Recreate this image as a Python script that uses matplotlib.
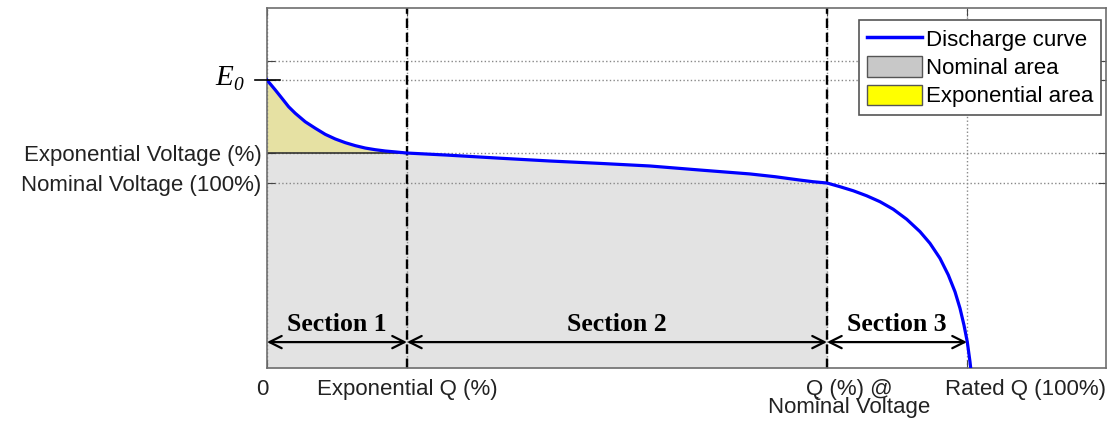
import numpy as np
import matplotlib.pyplot as plt
from matplotlib.patches import Patch
from matplotlib.lines import Line2D
import matplotlib.transforms as mtransforms

# Кривая разряда (заряд в % от номинального, напряжение в о.е.)
q = [0, 1.19, 2.14, 3.10, 4.04, 5.47, 6.90, 8.33, 9.76, 11.19, 12.61,
     14.04, 15.47, 16.90, 18.33, 20.0,
     25.7, 33.3, 40.4, 47.6, 54.7, 61.9, 69.0, 72.6, 76.1, 78.0, 80.0,
     81.86, 83.76, 85.67, 87.57, 89.47, 91.39, 93.29, 94.71, 96.14,
     97.33, 98.29, 99.0, 99.57, 100.04, 100.43, 100.53]
v = [1.557, 1.503, 1.458, 1.412, 1.377, 1.331, 1.296, 1.263, 1.238, 1.218, 1.202,
     1.189, 1.180, 1.173, 1.168, 1.162,
     1.151, 1.134, 1.119, 1.106, 1.092, 1.070, 1.049, 1.034, 1.016, 1.007, 1.000,
     0.980, 0.958, 0.931, 0.899, 0.858, 0.804, 0.737, 0.674, 0.593,
     0.503, 0.412, 0.323, 0.232, 0.142, 0.034, 0.0]

# Характерные точки
E0 = 1.557
v_exp = 1.162
v_nom = 1.0
v_grid_top = 1.659
q_exp = 20
q_nom = 80
q_rated = 100

section_labels = ['Section 1', 'Section 2', 'Section 3']
section_bounds = [0, q_exp, q_nom, q_rated]

x_labels = ['0', 'Exponential Q (%)', 'Q (%) @\nNominal Voltage', 'Rated Q (100%)']

q = np.array(q)
v = np.array(v)

fig = plt.figure(figsize=(11.11, 4.24), dpi=100)
ax = fig.add_axes([0.2403, 0.1321, 0.9955 - 0.2403, 0.9811 - 0.1321])

# Области
m_exp = q <= q_exp
m_nom = q <= q_nom
ax.fill_between(q[m_nom], 0, np.minimum(v[m_nom], v_exp), color='#e3e3e3', lw=0, zorder=1)
ax.fill_between(q[m_exp], v_exp, v[m_exp], color='#e6e1a3', lw=0, zorder=1)
ax.plot([0, q_exp], [v_exp, v_exp], color='#333333', lw=1.2, zorder=1.8)

# Кривая
ax.plot(q, v, color='#0000ff', lw=2.3, zorder=3, solid_joinstyle='round')

# Границы участков
for xb in [q_exp, q_nom]:
    ax.axvline(xb, color='black', ls=(0, (4, 2)), lw=1.7, zorder=2.5)

# Стрелки участков
y_arrow = 0.14
for i, lab in enumerate(section_labels):
    a, b = section_bounds[i], section_bounds[i + 1]
    ax.annotate('', xy=(a, y_arrow), xytext=(b, y_arrow),
                arrowprops=dict(arrowstyle='<->', lw=1.6, color='black',
                                shrinkA=0, shrinkB=0, mutation_scale=22),
                zorder=4)
    ax.text((a + b) / 2, y_arrow + 0.035, lab, ha='center', va='bottom',
            fontfamily='Liberation Serif', fontweight='bold', fontsize=18.5, zorder=4)

ax.set_xlim(0, 119.86)
ax.set_ylim(0, 1.946)

ax.set_yticks([v_nom, v_exp, E0, v_grid_top])
ax.set_yticklabels(['Nominal Voltage (100%)', 'Exponential Voltage (%)', '', ''],
                   fontfamily='Liberation Sans', fontsize=16, color='#222222')
ax.set_xticks(section_bounds)
ax.set_xticklabels([''] * 4)
ax.tick_params(direction='in', top=True, right=True, length=6, color='#444444', pad=4)
ax.grid(True, ls=':', color='#888888', lw=1)

for s in ax.spines.values():
    s.set_color('#6e6e6e')
    s.set_linewidth(1.2)

# Подписи оси X
trans = mtransforms.blended_transform_factory(ax.transData, ax.transAxes)
ax.text(-0.7, -0.03, x_labels[0], transform=trans, ha='center', va='top',
        fontfamily='Liberation Sans', fontsize=16, color='#222222')
ax.text(q_exp, -0.03, x_labels[1], transform=trans, ha='center', va='top',
        fontfamily='Liberation Sans', fontsize=16, color='#222222')
ax.text(83.2, -0.03, x_labels[2], transform=trans, ha='center', va='top',
        fontfamily='Liberation Sans', fontsize=16, color='#222222', linespacing=0.85)
ax.text(1.0, -0.03, x_labels[3], transform=ax.transAxes, ha='right', va='top',
        fontfamily='Liberation Sans', fontsize=16, color='#222222')

# E0 (курсив, с подстрочным индексом)
ax.plot([-1.7, 1.9], [E0, E0], color='black', lw=1.2, clip_on=False, zorder=5)
ax.annotate('E', xy=(0, E0), xytext=(-24.5, 1.5), textcoords='offset points',
            ha='right', va='center', fontsize=21, fontstyle='italic',
            fontfamily='Liberation Serif', annotation_clip=False)
ax.annotate('0', xy=(0, E0), xytext=(-24.5, -4), textcoords='offset points',
            ha='left', va='center', fontsize=14, fontstyle='italic',
            fontfamily='Liberation Serif', annotation_clip=False)

handles = [Line2D([0], [0], color='#0000ff', lw=2.5),
           Patch(facecolor='#c8c8c8', edgecolor='#555555'),
           Patch(facecolor='#ffff00', edgecolor='#555555')]
leg = ax.legend(handles, ['Discharge curve', 'Nominal area', 'Exponential area'],
                loc='upper right', bbox_to_anchor=(0.994, 0.967), borderaxespad=0,
                fancybox=False, framealpha=1, edgecolor='#555555',
                prop={'family': 'Liberation Sans', 'size': 16},
                handlelength=2.5, handleheight=1.05, handletextpad=0.15,
                labelspacing=0.25, borderpad=0.35)
leg.get_frame().set_linewidth(1.2)

plt.savefig('out.png', dpi=100)
